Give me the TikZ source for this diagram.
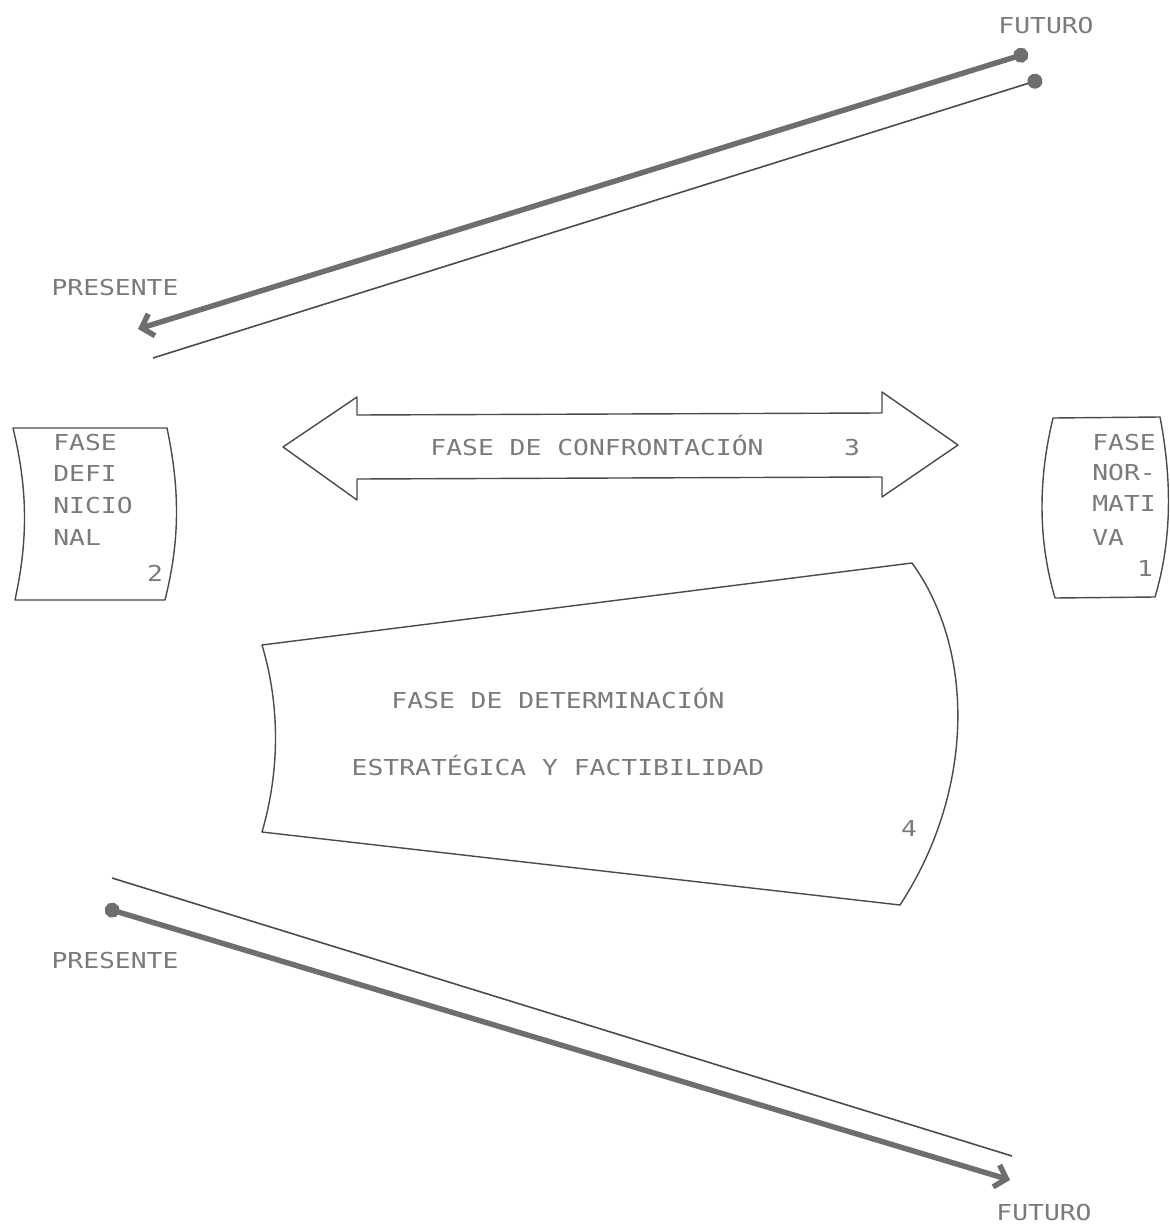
\documentclass[tikz,border=0pt]{standalone}
\usepackage{fontspec}
\usepackage{tikz}
\usepackage{xcolor}
\usetikzlibrary{arrows.meta}
\newfontfamily\plotfont[FakeStretch=1.2]{DejaVu Sans Mono}
\definecolor{ink}{HTML}{7A7A7A}
\definecolor{pen}{HTML}{4A4A4A}
\definecolor{heavy}{HTML}{6E6E6E}
\tikzset{x=0.02cm, y=-0.02cm,
 lbl/.style={font=\plotfont\fontsize{12.5}{15}\selectfont, text=ink, inner sep=0pt,
  text height=9.4pt, text depth=0pt},
 lbll/.style={lbl, anchor=west},
 outline/.style={draw=pen, line width=0.8pt, line join=round},
 heavyline/.style={draw=heavy, line width=3.1pt, line cap=round},
 thinline/.style={draw=pen, line width=0.9pt},
 }

\begin{document}
\begin{tikzpicture}
        \useasboundingbox (0,0) rectangle (1169,1226);
        \coordinate (futA) at (1028,53);
        \coordinate (preA) at (138,329);
        \coordinate (futB) at (1042,79);
        \coordinate (preB) at (153,358);
        \coordinate (preC) at (112,878);
        \coordinate (futC) at (1012,1156);
        \coordinate (preD) at (105,908);
        \coordinate (futD) at (1010,1180);
        \draw[heavyline, {Circle[length=8.5pt]}-{Straight Barb[length=6pt,width=13pt]}] (futA) -- (preA);
        \draw[thinline, {Circle[length=8.5pt,color=heavy]}-] (futB) -- (preB);
        \draw[thinline] (preC) -- (futC);
        \draw[heavyline, {Circle[length=8.5pt]}-{Straight Barb[length=6pt,width=13pt]}] (preD) -- (futD);
        \node[lbl] (futuroA) at (1046,25) {FUTURO};
        \node[lbl] (presenteA) at (115,287) {PRESENTE};
        \node[lbl] (presenteB) at (115,960) {PRESENTE};
        \node[lbl] (futuroB) at (1044,1212) {FUTURO};
        \draw[outline] (13,428) -- (167,428) .. controls (180,490) and (180,540) .. (165,600)
            -- (15,600) .. controls (28,540) and (28,490) .. (13,428) -- cycle;
        \node[lbll] (defA) at (53,442) {FASE};
        \node[lbll] (defB) at (53,473) {DEFI};
        \node[lbll] (defC) at (53,505) {NICIO};
        \node[lbll] (defD) at (53,537) {NAL};
        \node[lbl] (defN) at (155,573) {2};
        \draw[outline] (1053,418) -- (1160,417) .. controls (1172,480) and (1172,540) .. (1155,597)
            -- (1055,598) .. controls (1038,540) and (1038,480) .. (1053,418) -- cycle;
        \node[lbll] (norA) at (1092,442) {FASE};
        \node[lbll] (norB) at (1092,472) {NOR-};
        \node[lbll] (norC) at (1092,503) {MATI};
        \node[lbll] (norD) at (1092,537) {VA};
        \node[lbl] (norN) at (1145,568) {1};
        \draw[outline] (283,447) -- (357,397) -- (357,415) -- (882,413) -- (882,392) -- (958,445)
            -- (882,497) -- (882,477) -- (357,479) -- (357,500) -- cycle;
        \node[lbl] (conf) at (597,447) {FASE DE CONFRONTACIÓN};
        \node[lbl] (confN) at (852,447) {3};
        \draw[outline] (262,645) -- (912,563) .. controls (975,650) and (975,790) .. (900,905)
            -- (262,832) .. controls (280,770) and (280,705) .. (262,645) -- cycle;
        \node[lbl] (detA) at (558,700) {FASE DE DETERMINACIÓN};
        \node[lbl] (detB) at (558,767) {ESTRATÉGICA Y FACTIBILIDAD};
        \node[lbl] (detN) at (909,828) {4};
    \end{tikzpicture}
\end{document}
